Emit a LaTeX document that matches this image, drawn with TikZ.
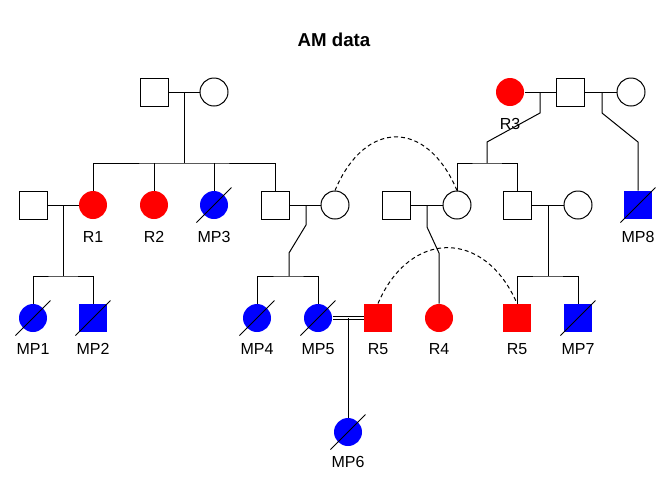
\documentclass[tikz,border=0pt]{standalone}
\usepackage{fontspec}
\setmainfont{Liberation Sans}
\usetikzlibrary{calc}
\tikzset{
	male/.style={draw, rectangle, minimum size=21pt, inner sep=0pt},
	female/.style={draw, circle, minimum size=21pt, inner sep=0pt},
	aff/.style={draw=none, fill=red},
	mp/.style={draw=none, fill=blue},
	lab/.style={anchor=base, inner sep=0pt, font=\fontsize{12}{14}\selectfont},
	kin/.style={dash pattern=on 3pt off 2.25pt}
}
\begin{document}
\begin{tikzpicture}[x=0.75pt, y=-0.75pt, line width=0.75pt]
		\useasboundingbox (0,0) rectangle (672,480);
		\node[anchor=base, inner sep=0pt, font=\fontsize{14}{17}\selectfont\bfseries] (title) at (334,46.7) {AM data};
		% first generation
		\node[male] (gf) at (154,92) { };
		\node[female] (gm) at (214,92) { };
		\node[female,aff] (r3) at (510,92) { };
		\node[male] (hf) at (570,92) { };
		\node[female] (hm) at (631,92) { };
		% second generation
		\node[male] (s1) at (33,205) { };
		\node[female,aff] (r1) at (93,205) { };
		\node[female,aff] (r2) at (154,205) { };
		\node[female,mp] (mp3) at (214,205) { };
		\node[male] (s2) at (275,205) { };
		\node[female] (d1) at (335,205) { };
		\node[male] (s3) at (396,205) { };
		\node[female] (d2) at (457,205) { };
		\node[male] (s4) at (517,205) { };
		\node[female] (d3) at (578,205) { };
		\node[male,mp] (mp8) at (638,205) { };
		% third generation
		\node[female,mp] (mp1) at (33,318) { };
		\node[male,mp] (mp2) at (93,318) { };
		\node[female,mp] (mp4) at (257,318) { };
		\node[female,mp] (mp5) at (318,318) { };
		\node[male,aff] (r5a) at (378,318) { };
		\node[female,aff] (r4) at (439,318) { };
		\node[male,aff] (r5b) at (517,318) { };
		\node[male,mp] (mp7) at (578,318) { };
		\node[female,mp] (mp6) at (348,432) { };
		% labels
		\node[lab] at (93,242) {R1};
		\node[lab] at (154,242) {R2};
		\node[lab] at (214,242) {MP3};
		\node[lab] at (638,242) {MP8};
		\node[lab] at (510,129) {R3};
		\node[lab] at (33,354) {MP1};
		\node[lab] at (93,354) {MP2};
		\node[lab] at (257,354) {MP4};
		\node[lab] at (318,354) {MP5};
		\node[lab] at (378,354) {R5};
		\node[lab] at (439,354) {R4};
		\node[lab] at (517,354) {R5};
		\node[lab] at (578,354) {MP7};
		\node[lab] at (348,467.7) {MP6};
		% deceased
		\foreach \n in {mp1,mp2,mp3,mp4,mp5,mp6,mp7,mp8}
			\draw[line width=0.6pt] (\n.center) ++(-17.5,17.5) -- ++(35,-35);
		
		% marriages
		\draw (gf) -- (gm);
		\draw (r3) -- (hf);
		\draw (hf) -- (hm);
		\draw (s1) -- (r1);
		\draw (s2) -- (d1);
		\draw (s3) -- (d2);
		\draw (s4) -- (d3);
		\draw[double, double distance=1.5pt] (mp5) -- (r5a);
		
		% descent
		\coordinate (m1) at (184,92);
		\coordinate (f1) at (184,163);
		\draw (m1) -- (f1);
		\draw (r1) |- (f1) -| (s2);
		\draw (r2) -- (r2 |- f1);
		\draw (mp3) -- (mp3 |- f1);
		
		\coordinate (m2) at (63,205);
		\coordinate (f2) at (63,276);
		\draw (m2) -- (f2);
		\draw (mp1) |- (f2) -| (mp2);
		
		\coordinate (m3) at (306,205);
		\coordinate (f3) at (289,276);
		\draw (m3) -- (306,225) -- (289,253) -- (f3);
		\draw (mp4) |- (f3) -| (mp5);
		
		\coordinate (m4) at (540,92);
		\coordinate (f4) at (487,163);
		\draw (m4) -- (540,113) -- (487,142) -- (f4);
		\draw (d2) |- (f4) -| (s4);
		
		\coordinate (m5) at (602,92);
		\draw (m5) -- (602,113) -- (638,142) -- (mp8);
		
		\coordinate (m6) at (427,205);
		\draw (m6) -- (427,227) -- (439,253) -- (r4);
		
		\coordinate (m7) at (548,205);
		\coordinate (f7) at (548,276);
		\draw (m7) -- (f7);
		\draw (r5b) |- (f7) -| (mp7);
		
		\coordinate (m8) at (348,318);
		\draw (m8) -- (mp6);
		
		% same person
		\draw[kin] (d1.north) .. controls (365,119) and (427,119) .. (d2.north);
		\draw[kin] (r5a.north) .. controls (410,229) and (485,229) .. (r5b.north);
	\end{tikzpicture}
\end{document}
